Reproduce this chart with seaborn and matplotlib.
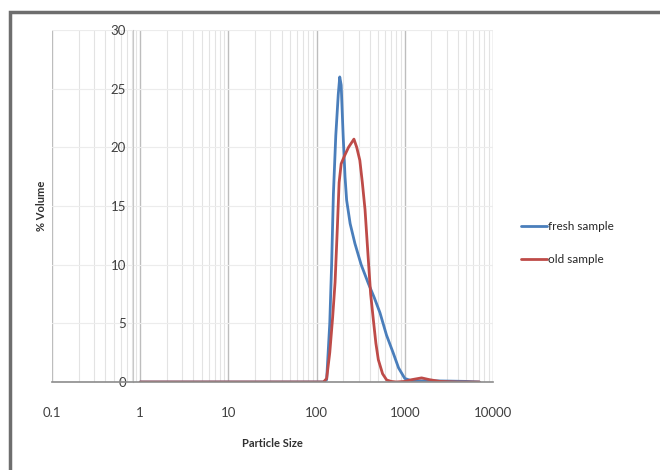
import pandas as pd
import matplotlib.pyplot as plt
import seaborn as sns
from matplotlib.patches import Rectangle
from matplotlib.ticker import LogLocator, FixedLocator, FixedFormatter

# particle size distribution
fresh_size = [1, 2, 5, 10, 20, 50, 100, 120, 130, 141, 148, 155, 165, 176, 183,
              190, 200, 210, 219, 240, 272, 320, 386, 450, 523, 620, 741, 850,
              1000, 1200, 1500, 2000, 3000, 5000, 7000]
fresh_vol = [0, 0, 0, 0, 0, 0, 0, 0, 0.2, 5, 10, 16, 21, 24.5, 26,
             25.3, 21, 17.5, 15.5, 13.5, 11.8, 10, 8.4, 7.2, 5.9, 4, 2.45, 1.2,
             0.3, 0.1, 0.1, 0.1, 0.08, 0.05, 0]

old_size = [1, 2, 5, 10, 20, 50, 100, 120, 130, 141, 152, 162, 172, 180, 190,
            205, 230, 265, 285, 309, 330, 354, 386, 410, 440, 470, 501, 560,
            623, 700, 800, 1000, 1200, 1550, 1900, 2500, 4000, 7000]
old_vol = [0, 0, 0, 0, 0, 0, 0, 0, 0.3, 2.5, 5.5, 8.5, 13.2, 17, 18.6,
           19.2, 20, 20.7, 20, 18.9, 17, 14.7, 10.4, 7.5, 5.3, 3.3, 1.9, 0.7,
           0.17, 0.05, 0, 0.05, 0.2, 0.35, 0.2, 0.05, 0, 0]

x_ticks = [0.1, 1, 10, 100, 1000, 10000]
x_labels = ["0.1", "1", "10", "100", "1000", "10000"]
y_ticks = [0, 5, 10, 15, 20, 25, 30]

df = pd.concat([
    pd.DataFrame({"size": fresh_size, "vol": fresh_vol, "sample": "fresh sample"}),
    pd.DataFrame({"size": old_size, "vol": old_vol, "sample": "old sample"}),
])

sns.set_style("white")
plt.rcParams["font.family"] = ["Lato", "DejaVu Sans"]

fig = plt.figure(figsize=(6.6, 4.7), dpi=100)
ax = fig.add_axes([52 / 660, 88 / 470, 441 / 660, 352 / 470])

# outer frame (cropped at right/bottom like the screenshot)
fig.patches.append(Rectangle((10 / 660, -0.05), 1.0, (470 - 12) / 470 + 0.05,
                             transform=fig.transFigure, fill=False,
                             edgecolor="#6e6e6e", linewidth=2.5))

sns.lineplot(data=df, x="size", y="vol", hue="sample",
             palette={"fresh sample": "#4A7EBB", "old sample": "#BE4B48"},
             linewidth=2.0, ax=ax, estimator=None, sort=True)

ax.set_xscale("log")
ax.set_xlim(0.1, 10000)
ax.set_ylim(0, 30)

ax.xaxis.set_major_locator(FixedLocator(x_ticks))
ax.xaxis.set_major_formatter(FixedFormatter(x_labels))
ax.xaxis.set_minor_locator(LogLocator(base=10, subs=range(2, 10), numticks=20))
ax.set_yticks(y_ticks)

ax.grid(which="major", axis="x", color="#bdbdbd", linewidth=1.0)
ax.grid(which="minor", axis="x", color="#e3e3e3", linewidth=0.8)
ax.grid(which="major", axis="y", color="#ececec", linewidth=0.8)

for s in ["top", "right"]:
    ax.spines[s].set_visible(False)
ax.spines["left"].set_position(("data", 0.83))
ax.spines["left"].set_color("#c8c8c8")
ax.spines["bottom"].set_color("#8c8c8c")
ax.spines["bottom"].set_linewidth(1.2)

ax.tick_params(axis="x", which="both", length=0, pad=18, labelsize=9.5,
               labelcolor="#404040")
ax.tick_params(axis="y", length=3, color="#a0a0a0", labelsize=9.5,
               labelcolor="#404040", pad=2)

ax.set_xlabel("Particle Size", fontsize=8, fontweight="bold", labelpad=14,
              color="#303030")
ax.set_ylabel("% Volume", fontsize=8, fontweight="bold", color="#303030")
ax.yaxis.set_label_coords(-0.012, 0.5)

ax.legend(loc="center left", bbox_to_anchor=(1.04, 0.395), frameon=False,
          fontsize=8.5, handlelength=2.2, handletextpad=0.1, labelspacing=1.9,
          title=None)

fig.savefig("out.png", dpi=100)
